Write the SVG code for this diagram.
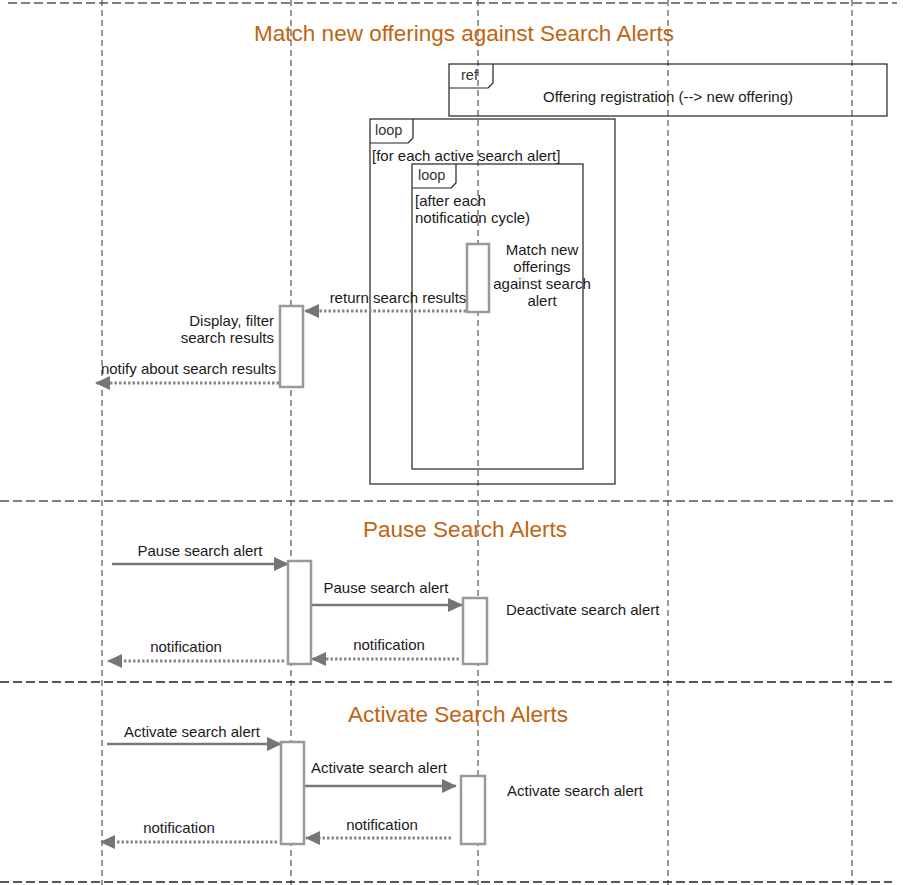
<svg xmlns="http://www.w3.org/2000/svg" width="903" height="885" viewBox="0 0 903 885">
<style>
text{font-family:"Liberation Sans",Arial,sans-serif;font-size:15px;fill:#1a1a1a}
.title{font-size:22.5px;fill:#BF6410;text-anchor:middle}
.tag{font-size:14.5px;fill:#333}
.life{stroke:#999;stroke-width:2;stroke-dasharray:6 4;fill:none}
.sep{stroke:#555;stroke-width:1.5;stroke-dasharray:9 4;fill:none}
.frame{stroke:#222;stroke-width:1.2;fill:none}
.act{stroke:#999;stroke-width:2.5;fill:#fff}
.sync{stroke:#777;stroke-width:2.5;fill:none;marker-end:url(#ah)}
.ret{stroke:#888;stroke-width:3;stroke-dasharray:2.5 2;fill:none;marker-end:url(#ah)}
.mid{text-anchor:middle}
.end{text-anchor:end}
</style>
<defs>
<marker id="ah" markerUnits="userSpaceOnUse" markerWidth="16" markerHeight="16" refX="14" refY="8" orient="auto">
<path d="M0,1 L15,8 L0,15 Z" fill="#757575"/>
</marker>
</defs>
<g id="lifelines">
<line class="life" x1="102" y1="0" x2="102" y2="885"/>
<line class="life" x1="291" y1="0" x2="291" y2="885"/>
<line class="life" x1="478" y1="0" x2="478" y2="885"/>
<line class="life" x1="668" y1="0" x2="668" y2="885"/>
<line class="life" x1="852" y1="0" x2="852" y2="885"/>
</g>
<g id="separators">
<line class="sep" x1="8" y1="3" x2="897" y2="3"/>
<line class="sep" x1="0" y1="501" x2="897" y2="501"/>
<line class="sep" x1="0" y1="682" x2="892" y2="682" style="stroke:#222"/>
<line class="sep" x1="0" y1="882" x2="892" y2="882" style="stroke:#222"/>
</g>
<g id="titles">
<text class="title" x="464" y="41">Match new offerings against Search Alerts</text>
<text class="title" x="465" y="537">Pause Search Alerts</text>
<text class="title" x="458" y="722">Activate Search Alerts</text>
</g>
<g id="ref-offering-registration">
<rect class="frame" x="449" y="64" width="438" height="52"/>
<path class="frame" d="M449,88 L488,88 L493,83 L493,64"/>
<text class="tag" x="461" y="80">ref</text>
<text class="mid" x="668" y="102">Offering registration (--&gt; new offering)</text>
</g>
<g id="loop-outer">
<rect class="frame" x="370" y="119" width="245" height="365"/>
<path class="frame" d="M370,143 L408,143 L413,138 L413,119"/>
<text class="tag" x="375" y="135">loop</text>
<text x="372" y="161">[for each active search alert]</text>
</g>
<g id="loop-inner">
<rect class="frame" x="412" y="164" width="171" height="305"/>
<path class="frame" d="M412,188 L451,188 L456,183 L456,164"/>
<text class="tag" x="418" y="180">loop</text>
<text x="415" y="206">[after each</text>
<text x="415" y="223">notification cycle)</text>
</g>
<g id="connectors">
<line class="ret" x1="466" y1="311" x2="305" y2="311"/>
<line class="ret" x1="279" y1="383" x2="96" y2="383"/>
<line class="sync" x1="112" y1="564" x2="288" y2="564"/>
<line class="sync" x1="312" y1="605" x2="462" y2="605"/>
<line class="ret" x1="459" y1="659" x2="312" y2="659"/>
<line class="ret" x1="284" y1="661" x2="108" y2="661"/>
<line class="sync" x1="107" y1="744" x2="281" y2="744"/>
<line class="sync" x1="305" y1="786" x2="456" y2="786"/>
<line class="ret" x1="451" y1="838" x2="306" y2="838"/>
<line class="ret" x1="277" y1="842" x2="101" y2="842"/>
</g>
<g id="connector-labels">
<text class="mid" x="398" y="303">return search results</text>
<text class="end" x="276" y="374">notify about search results</text>
<text class="mid" x="200" y="556">Pause search alert</text>
<text class="mid" x="386" y="593">Pause search alert</text>
<text class="mid" x="389" y="650">notification</text>
<text class="mid" x="186" y="652">notification</text>
<text class="mid" x="192" y="737">Activate search alert</text>
<text class="mid" x="379" y="773">Activate search alert</text>
<text class="mid" x="382" y="830">notification</text>
<text class="mid" x="179" y="833">notification</text>
</g>
<g id="act-match">
<rect class="act" x="467" y="244" width="22" height="68"/>
<text class="mid" x="542" y="255">Match new</text>
<text class="mid" x="542" y="272">offerings</text>
<text class="mid" x="542" y="289">against search</text>
<text class="mid" x="542" y="306">alert</text>
</g>
<g id="act-display">
<rect class="act" x="280" y="306" width="23" height="81"/>
<text class="end" x="274" y="326">Display, filter</text>
<text class="end" x="274" y="343">search results</text>
</g>
<g id="act-pause-ui">
<rect class="act" x="288" y="561" width="23" height="103"/>
</g>
<g id="act-deactivate">
<rect class="act" x="463" y="598" width="24" height="66"/>
<text x="506" y="615">Deactivate search alert</text>
</g>
<g id="act-activate-ui">
<rect class="act" x="281" y="742" width="23" height="102"/>
</g>
<g id="act-activate">
<rect class="act" x="461" y="776" width="24" height="68"/>
<text x="507" y="796">Activate search alert</text>
</g>
</svg>
